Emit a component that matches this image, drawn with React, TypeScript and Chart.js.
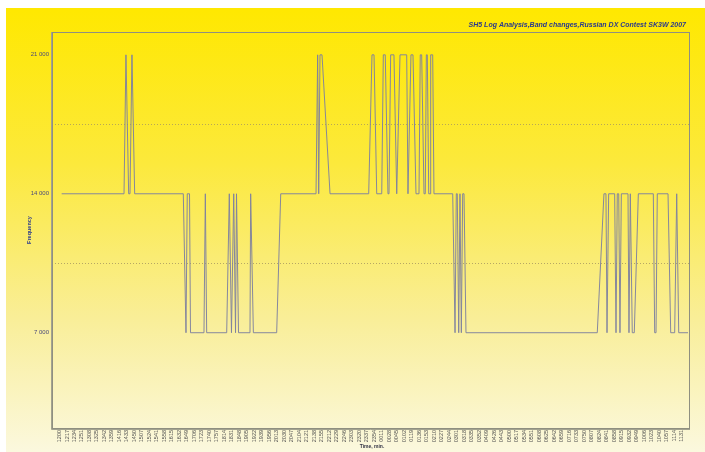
import React, { useEffect, useRef } from "react";
import { Chart, registerables } from "chart.js";

Chart.register(...registerables);

const chartTitle = "SH5 Log Analysis,Band changes,Russian DX Contest SK3W 2007";
const xAxisTitle = "Time, min.";
const yAxisTitle = "Frequency";

const tickLabels = [
  "1200", "1217", "1234", "1251", "1308", "1325", "1342", "1359", "1416", "1433",
  "1450", "1507", "1524", "1541", "1558", "1615", "1632", "1649", "1706", "1723",
  "1740", "1757", "1814", "1831", "1848", "1905", "1922", "1939", "1956", "2013",
  "2030", "2047", "2104", "2121", "2138", "2155", "2212", "2229", "2246", "2303",
  "2320", "2337", "2354", "0011", "0028", "0045", "0102", "0119", "0136", "0153",
  "0210", "0227", "0244", "0301", "0318", "0335", "0352", "0409", "0426", "0443",
  "0500", "0517", "0534", "0551", "0608", "0625", "0642", "0659", "0716", "0733",
  "0750", "0807", "0824", "0841", "0858", "0915", "0932", "0949", "1006", "1023",
  "1040", "1057", "1114", "1131",
];

// x position of each band change (in tick-label index units) and the band (kHz)
const changeX = [
  0.29, 8.61, 8.87, 9.23, 9.41, 9.67, 10.03,
  16.52, 16.88, 17.05, 17.35, 17.48, 19.28, 19.46, 19.64,
  22.31, 22.66, 22.95, 23.25, 23.49, 23.62, 23.89,
  25.42, 25.51, 25.87, 28.98, 29.52,
  34.23, 34.45, 34.59, 34.76, 35.03, 36.10,
  41.26, 41.70, 41.97, 42.33, 43.00, 43.21, 43.47, 43.83, 43.97, 44.19, 44.63, 45.00,
  45.44, 46.33, 46.50, 46.90, 47.17, 47.57, 47.97, 48.14, 48.33, 48.64, 48.81, 48.95,
  49.08, 49.27, 49.44, 49.53, 49.80, 49.97,
  52.47, 52.78, 52.95, 53.08, 53.27, 53.44, 53.62, 53.80, 53.98, 54.24,
  71.76, 72.65, 72.92, 73.06, 73.28, 74.08, 74.26, 74.43, 74.62, 74.79, 74.97,
  75.86, 75.99, 76.17, 76.26, 76.43, 76.70, 77.24, 79.24, 79.42, 79.60, 79.77,
  81.20, 81.56, 82.09, 82.36, 82.63, 83.87,
];

const bandKHz = [
  14000, 14000, 21000, 14000, 14000, 21000, 14000,
  14000, 7000, 14000, 14000, 7000, 7000, 14000, 7000,
  7000, 14000, 7000, 14000, 7000, 14000, 7000,
  7000, 14000, 7000, 7000, 14000,
  14000, 21000, 14000, 21000, 21000, 14000,
  14000, 21000, 21000, 14000, 14000, 21000, 21000, 14000, 14000, 21000, 21000, 14000,
  21000, 21000, 14000, 21000, 21000, 14000, 14000, 21000, 21000, 14000, 14000, 21000,
  21000, 14000, 14000, 21000, 21000, 14000,
  14000, 7000, 14000, 14000, 7000, 14000, 7000, 14000, 14000, 7000,
  7000, 14000, 14000, 7000, 14000, 14000, 7000, 14000, 14000, 7000, 14000,
  14000, 7000, 14000, 14000, 7000, 7000, 14000, 14000, 7000, 7000, 14000,
  14000, 7000, 7000, 14000, 7000, 7000,
];

const yTickValues = [7000, 10500, 14000, 17500, 21000];
const yTickLabels = ["7 000", "", "14 000", "", "21 000"];

const FONT = "'Liberation Sans', Arial, sans-serif";

const decorPlugin = {
  id: "decor",
  beforeDraw(chart: any) {
    const { ctx, width, height } = chart;
    const g = ctx.createLinearGradient(0, 0, 0, height);
    g.addColorStop(0, "#FFE800");
    g.addColorStop(0.35, "#FCE93C");
    g.addColorStop(0.7, "#F9EE98");
    g.addColorStop(1, "#FBF8DE");
    ctx.save();
    ctx.fillStyle = g;
    ctx.fillRect(0, 0, width, height);
    ctx.restore();
  },
  afterDraw(chart: any) {
    const { ctx, chartArea } = chart;
    const { left, top, right, bottom } = chartArea;
    ctx.save();
    // plot frame
    ctx.strokeStyle = "#8f8f80";
    ctx.lineWidth = 1;
    ctx.strokeRect(left + 0.5, top + 0.5, right - left, bottom - top);
    ctx.strokeStyle = "#a3a390";
    ctx.beginPath();
    ctx.moveTo(left - 0.5, top);
    ctx.lineTo(left - 0.5, bottom + 1.5);
    ctx.lineTo(right + 1, bottom + 1.5);
    ctx.stroke();

    // title
    ctx.fillStyle = "#2b3a8c";
    ctx.font = `italic bold 7px ${FONT}`;
    ctx.textAlign = "right";
    ctx.textBaseline = "middle";
    ctx.fillText(chartTitle, right - 3, 17);

    // x axis title
    ctx.fillStyle = "#333344";
    ctx.font = `bold 5px ${FONT}`;
    ctx.textAlign = "center";
    ctx.fillText(xAxisTitle, 366, 438.5);

    // y axis title
    ctx.fillStyle = "#2b3a8c";
    ctx.translate(23.5, 222);
    ctx.rotate(-Math.PI / 2);
    ctx.font = `bold 5.5px ${FONT}`;
    ctx.fillText(yAxisTitle, 0, 0);
    ctx.restore();
  },
};

export default function App() {
  const ref = useRef<HTMLCanvasElement | null>(null);

  useEffect(() => {
    if (!ref.current) return;
    const chart = new Chart(ref.current, {
      type: "line",
      data: {
        datasets: [
          {
            data: changeX.map((x, i) => ({ x, y: bandKHz[i] })),
            borderColor: "rgba(128,130,158,0.95)",
            borderWidth: 1,
            pointRadius: 0,
            tension: 0,
            fill: false,
          },
        ],
      },
      options: {
        animation: false,
        responsive: false,
        layout: { padding: { top: 24, right: 16, left: 0, bottom: 0 } },
        plugins: {
          legend: { display: false },
          tooltip: { enabled: false },
          title: { display: false },
        },
        scales: {
          x: {
            type: "linear",
            min: -1,
            max: 84,
            afterBuildTicks: (scale: any) => {
              scale.ticks = tickLabels.map((_, i) => ({ value: i }));
            },
            afterFit: (scale: any) => {
              scale.height = 24;
            },
            ticks: {
              autoSkip: false,
              minRotation: 90,
              maxRotation: 90,
              padding: 2,
              color: "#505050",
              font: { family: FONT, size: 5.5 },
              callback: (_v: any, index: number) => tickLabels[index] ?? "",
            },
            grid: { display: false, drawTicks: false },
            border: { display: false },
          },
          y: {
            type: "linear",
            min: 2200,
            max: 22150,
            afterBuildTicks: (scale: any) => {
              scale.ticks = yTickValues.map((v) => ({ value: v }));
            },
            afterFit: (scale: any) => {
              scale.width = 46;
            },
            ticks: {
              padding: 3,
              color: "#4a4a7a",
              font: { family: FONT, size: 6 },
              callback: (_v: any, index: number) => yTickLabels[index] ?? "",
            },
            grid: {
              drawTicks: false,
              lineWidth: 1,
              color: (ctx: any) =>
                ctx.tick && yTickLabels[ctx.index] === ""
                  ? "rgba(165,150,95,0.8)"
                  : "rgba(0,0,0,0)",
            },
            border: { display: false, dash: [1, 2] },
          },
        },
      },
      plugins: [decorPlugin],
    });
    return () => chart.destroy();
  }, []);

  return (
    <div style={{ position: "absolute", left: 6, top: 8, width: 699, height: 444 }}>
      <canvas ref={ref} width={699} height={444} style={{ display: "block" }} />
    </div>
  );
}
